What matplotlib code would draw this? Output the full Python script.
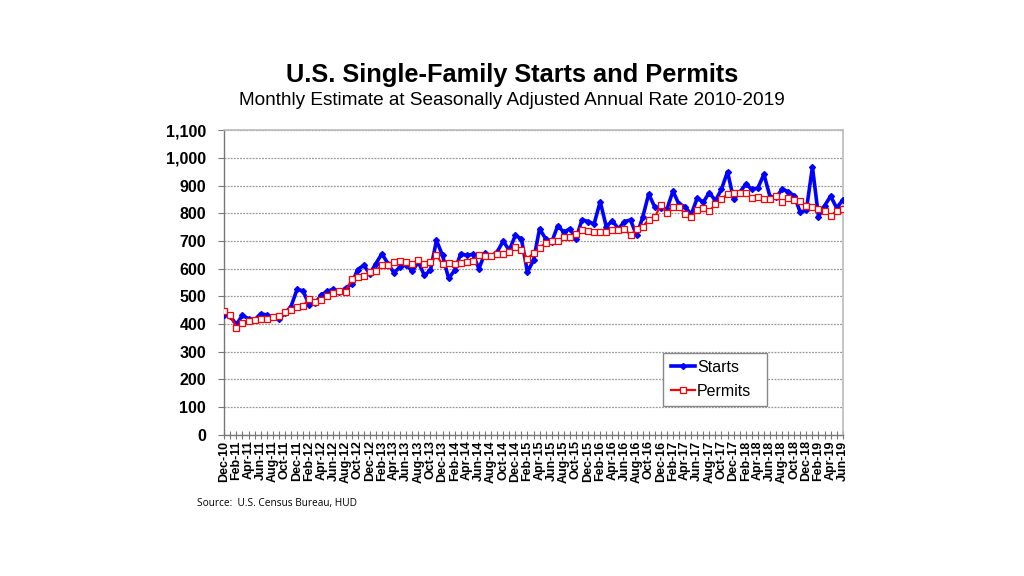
import numpy as np
import pandas as pd
import matplotlib
matplotlib.use("Agg")
import matplotlib.pyplot as plt
import matplotlib.ticker as mticker

# monthly categories Dec-2010 .. Jun-2019
months = pd.date_range("2010-12-01", "2019-06-01", freq="MS")
month_labels = list(months.strftime("%b-%y"))

# single-family starts, thousands (SAAR)
starts = [
    433, 428, 398, 432, 419, 415, 437, 433, 427, 418, 439, 463,   # Dec-10 .. Nov-11
    525, 520, 469, 475, 505, 519, 525, 517, 529, 545, 597, 612,   # Dec-11 .. Nov-12
    582, 618, 654, 618, 585, 607, 615, 590, 624, 576, 594, 702,   # Dec-12 .. Nov-13
    648, 565, 594, 654, 648, 652, 600, 656, 645, 660, 700, 666,   # Dec-13 .. Nov-14
    720, 708, 588, 630, 744, 708, 696, 755, 732, 744, 708, 777,   # Dec-14 .. Nov-15
    770, 762, 842, 752, 773, 744, 770, 776, 720, 785, 870, 822,   # Dec-15 .. Nov-16
    820, 815, 880, 832, 824, 795, 855, 840, 875, 845, 887, 950,   # Dec-16 .. Nov-17
    851, 875, 905, 887, 891, 941, 860, 857, 887, 878, 863, 803,   # Dec-17 .. Nov-18
    812, 967, 788, 827, 862, 819, 848,                            # Dec-18 .. Jun-19
]

# single-family permits, thousands (SAAR)
permits = [
    449, 433, 385, 405, 410, 413, 418, 419, 425, 430, 442, 451,
    460, 467, 490, 481, 487, 503, 511, 520, 517, 561, 570, 573,
    588, 592, 612, 612, 624, 626, 624, 618, 633, 618, 624, 648,
    616, 621, 616, 621, 623, 627, 648, 645, 645, 654, 652, 660,
    680, 668, 636, 656, 675, 692, 700, 700, 714, 714, 726, 738,
    735, 734, 734, 732, 740, 738, 744, 720, 744, 752, 777, 785,
    831, 800, 824, 824, 797, 785, 812, 819, 807, 833, 851, 869,
    872, 872, 875, 855, 860, 850, 851, 862, 840, 855, 849, 845,
    827, 821, 815, 810, 790, 809, 815,
]

x = np.arange(len(months))

fig = plt.figure(figsize=(10.24, 5.76), dpi=100)
fig.patch.set_facecolor("white")
ax = fig.add_axes([0.219, 0.245, 0.604, 0.529])

ax.plot(x, starts, color="#0000FF", linewidth=2.6, marker="D",
        markersize=3.0, markerfacecolor="#0000FF", markeredgecolor="#0000FF",
        label="Starts", zorder=3)
ax.plot(x, permits, color="#FF0000", linewidth=1.6, marker="s",
        markersize=4.4, markerfacecolor="white", markeredgecolor="#FF0000",
        markeredgewidth=0.9, label="Permits", zorder=4)

ax.set_xlim(0, len(months) - 1)
ax.set_ylim(0, 1100)
ax.set_yticks(np.arange(0, 1101, 100))
ax.yaxis.set_major_formatter(mticker.FuncFormatter(lambda v, p: f"{int(v):,}"))

ax.set_xticks(x[::2])
ax.set_xticklabels(month_labels[::2], rotation=90, fontsize=9,
                   fontweight="bold", family="Liberation Sans")
ax.set_xticks(x, minor=True)
ax.tick_params(axis="x", which="both", direction="inout", length=6,
               width=0.8, color="#777777", pad=1)
ax.tick_params(axis="y", direction="out", length=4, width=0.8,
               color="#777777", pad=9)
for lab in ax.get_yticklabels():
    lab.set_fontsize(11.5)
    lab.set_fontweight("bold")
    lab.set_family("Liberation Sans")

ax.grid(axis="y", color="#999999", linestyle=(0, (1.5, 1)), linewidth=0.9)
ax.set_axisbelow(True)
for side in ["top", "right"]:
    ax.spines[side].set_color("#BBBBBB")
    ax.spines[side].set_linewidth(1.2)
for side in ["left", "bottom"]:
    ax.spines[side].set_color("#777777")
    ax.spines[side].set_linewidth(1.0)

leg = ax.legend(loc="lower left", bbox_to_anchor=(0.710, 0.095, 0.167, 0.187),
                mode="expand", prop={"family": "Liberation Sans", "size": 11.5},
                frameon=True, fancybox=False, edgecolor="#888888",
                handlelength=1.5, handletextpad=0.15, borderaxespad=0,
                labelspacing=0.55, borderpad=0.45, framealpha=1)
leg.get_frame().set_linewidth(1.0)

fig.text(0.5, 0.870, "U.S. Single-Family Starts and Permits",
         ha="center", va="center", fontsize=18.3, fontweight="bold",
         family="Liberation Sans")
fig.text(0.5, 0.825, "Monthly Estimate at Seasonally Adjusted Annual Rate 2010-2019",
         ha="center", va="center", fontsize=13.7, family="Liberation Sans")
fig.text(0.192, 0.126, "Source:  U.S. Census Bureau, HUD",
         ha="left", va="center", fontsize=7.3, family="Open Sans")

fig.savefig("out.png", dpi=100, facecolor="white")
plt.close(fig)
